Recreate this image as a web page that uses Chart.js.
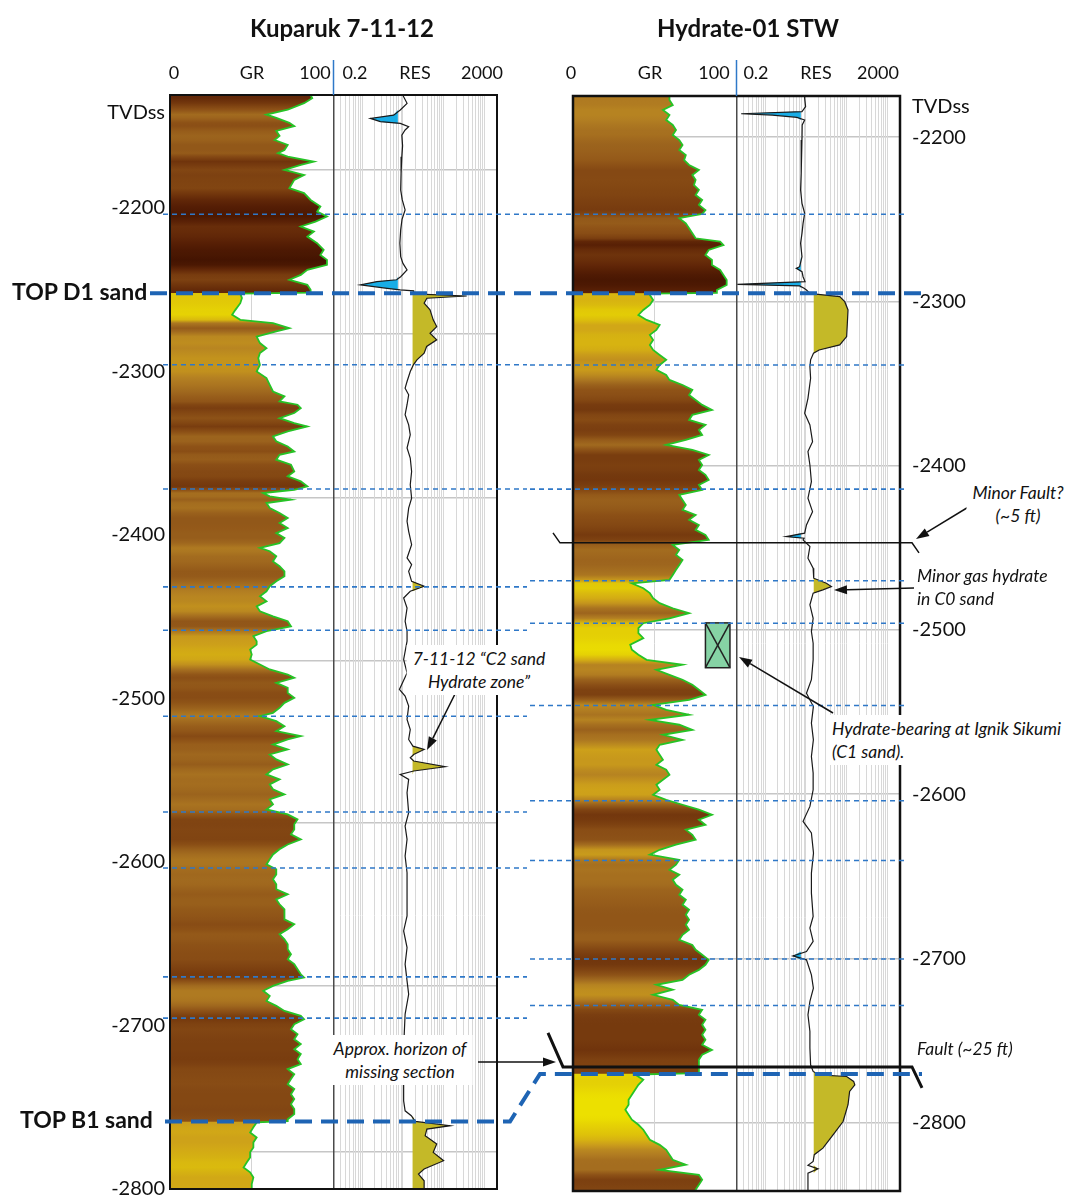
<!DOCTYPE html>
<html><head><meta charset="utf-8">
<script src="https://cdn.jsdelivr.net/npm/chart.js@4.4.1/dist/chart.umd.min.js"></script>
<style>
html,body{margin:0;padding:0;background:#fff;}
body{width:1070px;height:1198px;position:relative;overflow:hidden;font-family:Lato,"Open Sans",sans-serif;color:#111;}
canvas{position:absolute;left:0;top:0;}
.lbl{position:absolute;white-space:nowrap;line-height:1;}
.title{font-weight:700;font-size:24px;}
.hdr{font-size:18px;}
.dep{font-size:20px;}
.top{font-weight:700;font-size:23px;}
.note{font-style:italic;font-size:17.5px;line-height:23px;}
.box{background:#fff;padding:2px 6px;text-align:center;}
.lft{text-align:left;}
</style></head>
<body>
<canvas id="wellL" width="1070" height="1198"></canvas>
<canvas id="wellR" width="1070" height="1198"></canvas>
<script>
// ---------------- DATA (depth TVDss, value) ----------------
const kuparukGR = [[-2131,86],[-2133,87],[-2136,82],[-2140,72],[-2143,59],[-2145,65],[-2148,73],[-2150,76],[-2153,65],[-2156,67],[-2158.5,64],[-2161.5,72],[-2164.6,70],[-2166.6,66],[-2168.7,72],[-2171.7,88],[-2173.8,80],[-2176.8,70],[-2179.9,82],[-2182.9,76],[-2188,73],[-2191,82],[-2195.2,86],[-2199.2,92],[-2202.3,90],[-2205.3,96],[-2208.4,89],[-2211.4,80],[-2214.5,88],[-2217.6,84],[-2221.6,90],[-2225.7,94],[-2228.8,92],[-2231.8,96],[-2234.9,96],[-2237.9,84],[-2241,80],[-2244,73],[-2247.1,84],[-2250.1,86],[-2251.8,86],[-2252.4,43],[-2255.2,44],[-2258.3,43],[-2262.4,40],[-2265.4,38],[-2268.5,43],[-2270.5,63],[-2273.6,73],[-2275.6,65],[-2278.7,53],[-2282.7,55],[-2285.8,59],[-2288.8,55],[-2291.9,54],
[-2296,55],[-2300.1,53],[-2304.1,59],[-2308.2,61],[-2312.3,63],[-2315.3,70],[-2318.4,67],[-2320.4,78],[-2322.5,80],[-2325.5,76],[-2328.6,67],[-2331.6,76],[-2333.7,84],[-2336.7,72],[-2339.8,63],[-2342.8,65],[-2345.9,72],[-2349,76],[-2351,67],[-2354,65],[-2357.1,74],[-2361.2,76],[-2364.2,72],[-2367.3,80],[-2370.3,84],[-2372.4,76],[-2374.4,57],[-2376.4,61],[-2378.5,74],[-2380.5,59],[-2383.6,61],[-2386.6,67],[-2389.7,72],[-2392.7,67],[-2395.8,72],[-2398.9,65],[-2401.9,70],[-2405,67],[-2408,55],[-2410,61],[-2413.1,65],[-2416.2,63],[-2419.2,67],[-2422.3,70],[-2425.3,70],[-2428.4,65],[-2431.4,61],[-2434.5,59],[-2437.5,55],[-2440.6,59],[-2443.7,53],[-2446.7,55],[-2449.8,63],[-2452.8,72],[-2455.9,74],[-2458.9,59],[-2462,51],[-2465,53],
[-2467.1,53],[-2470.1,49],[-2473.2,50],[-2476.2,49],[-2479.3,55],[-2482.3,61],[-2485.4,72],[-2487.4,76],[-2490.5,65],[-2493.5,72],[-2496.6,72],[-2499.6,76],[-2502.7,70],[-2505.8,67],[-2508.8,63],[-2510.8,55],[-2513.9,65],[-2517,70],[-2520,65],[-2523.1,80],[-2525.1,72],[-2528.2,63],[-2531.2,72],[-2534.3,61],[-2537.3,65],[-2540.4,72],[-2543.4,63],[-2546.5,59],[-2549.5,67],[-2552.6,61],[-2555.6,63],[-2558.7,70],[-2561.8,61],[-2564.8,63],[-2567.9,59],[-2570.9,72],[-2574,78],[-2577,76],[-2580.1,76],[-2583.1,74],[-2586.2,80],[-2589.3,72],[-2592.3,67],[-2595.4,63],[-2598.4,61],[-2601.5,59],[-2604.5,65],[-2607.6,65],[-2610.6,63],[-2613.7,65],[-2616.7,65],[-2619.8,72],[-2622.9,65],[-2625.9,67],[-2629,70],
[-2632,70],[-2635.1,70],[-2638.1,76],[-2641.2,72],[-2644.2,67],[-2647.3,70],[-2650.3,72],[-2653.4,72],[-2656.4,74],[-2659.5,72],[-2662.5,76],[-2665.6,78],[-2668.7,80],[-2670.7,82],[-2672.7,72],[-2675.8,63],[-2678.8,57],[-2681.9,61],[-2685,59],[-2688,65],[-2691.1,70],[-2694.1,80],[-2696.2,82],[-2699.2,76],[-2702.3,74],[-2705.3,78],[-2708.4,76],[-2711.4,80],[-2714.5,76],[-2717.5,80],[-2720.6,78],[-2723.6,80],[-2726.7,72],[-2729.8,76],[-2732.8,74],[-2735.9,72],[-2738.9,76],[-2742,74],[-2745,76],[-2748.1,74],[-2751.1,76],[-2754.2,76],[-2757.3,72],[-2758.5,72],[-2759.3,53],[-2762.3,51],[-2765.4,49],[-2768.5,53],[-2771.5,51],[-2774.6,51],[-2777.6,49],[-2780.7,49],[-2783.7,47],[-2786.8,45],[-2789.8,49],[-2792.9,51],[-2797,50],[-2800,50]];

const kuparukRES = [[-2131,10],[-2132.1,10.4],[-2136.1,12.6],[-2140.2,8.6],[-2143.3,5.9],[-2145.3,1.6],[-2147.3,2.8],[-2148.4,8.6],[-2150.4,13.8],[-2152.4,11.3],[-2155.5,9.4],[-2162,9.8],[-2168.7,9.4],[-2178.9,9.0],[-2189.1,8.8],[-2195,9.6],[-2201.3,11.3],[-2207,9.5],[-2213.5,8.8],[-2221.7,8.4],[-2229.8,8.8],[-2234,10],[-2238,12.6],[-2242.1,8.8],[-2244,7],[-2245.1,2.3],[-2247.1,0.91],[-2249.2,4.1],[-2250.2,8.6],[-2250.8,18.3],[-2252.6,18.3],[-2253.9,364],[-2255.3,38.5],[-2258.3,33],[-2262.4,46],[-2268.5,55],[-2272.6,67],[-2276.7,46],[-2280.7,67],[-2284.8,38],[-2288.9,33],[-2293,22],[-2296,18],[-2300.1,15.1],[-2306.2,12.6],[-2310.3,11.3],[-2314.3,13.8],[-2320.4,12.6],[-2326.5,11.3],[-2332.7,13.8],[-2338.8,15.1],[-2346.9,12.6],[-2353,15.1],[-2361.2,16.3],[-2369.3,15.1],[-2377.5,16.3],[-2383.6,13.8],[-2391.7,12.6],[-2397.8,13.8],[-2406,16.3],[-2414.1,12.6],[-2418.2,16.3],[-2422.3,13.8],[-2428.4,16.3],[-2431.4,33],[-2434.5,15.1],[-2438.6,10.4],[-2444.7,12.6],[-2452.8,11.3],[-2458.9,12.6],[-2465,12.6],[-2476.2,10.4],[-2484.4,12.6],[-2494.5,8.2],[-2498.6,11.3],[-2504.7,13.8],[-2512.9,12.6],[-2519,15.1],[-2525.1,13.8],[-2529.2,17.5],[-2531.2,33],[-2534.3,18.3],[-2536.3,15.1],[-2538.3,18.3],[-2541.8,108],[-2544.4,18.3],[-2546.5,8.6],[-2549.5,13.8],[-2557.7,12.6],[-2569.9,13.8],[-2578.1,11.3],[-2586.2,12.6],[-2596.4,11.3],[-2606.6,12.6],[-2618.8,12.6],[-2633,12.6],[-2642.2,10.4],[-2652.4,12.6],[-2662.5,11.3],[-2672.7,12.6],[-2680.9,13.8],[-2693.1,11.3],[-2713.5,10.4],[-2733.8,10.4],[-2746.1,10.4],[-2752.2,11.3],[-2755.2,16],[-2758.7,20],[-2761.3,143],[-2763.4,38.5],[-2767.4,35],[-2772.5,67],[-2777.6,55],[-2782.7,99],[-2787.8,33],[-2790.9,24],[-2795,33],[-2800,33]];

const hydrateGR = [[-2175,59],[-2177.4,59],[-2180.5,61],[-2183.5,55],[-2186.6,59],[-2189.6,57],[-2192.6,61],[-2195.7,63],[-2198.7,61],[-2201.8,65],[-2204.8,67],[-2207.9,65],[-2210.9,69],[-2214,68],[-2217,71],[-2220,77],[-2223.1,73],[-2226.1,75],[-2229.2,74],[-2232.2,77],[-2235.3,75],[-2238.3,79],[-2241.3,77],[-2244.4,81],[-2246.8,79],[-2249.4,65],[-2252.5,69],[-2255.5,71],[-2258.6,73],[-2261.6,75],[-2263.6,90],[-2265.7,92],[-2268.7,83],[-2271.8,81],[-2274.8,85],[-2277.8,85],[-2280.9,90],[-2283.9,92],[-2287,94],[-2290,94],[-2293.1,88],[-2294.8,88],[-2295.3,47],[-2296.1,47],[-2299.1,49],[-2302.2,47],[-2305.2,43],[-2308.3,40],[-2311.3,45],[-2314.4,53],[-2317.4,51],[-2320.4,47],[-2323.5,49],[-2326.5,47],[-2329.6,49],[-2332.6,53],[-2335.6,57],[-2338.7,53],[-2341.7,51],[-2344.8,57],[-2347.8,59],[-2350.9,67],[-2353.9,73],[-2357,71],[-2360,75],[-2363,79],[-2366.1,85],[-2369.1,73],[-2372.2,71],[-2375.2,81],[-2378.3,77],[-2381.3,79],[-2384.3,69],[-2387.4,57],[-2390.4,73],[-2393.5,83],[-2396.5,77],[-2399.6,79],[-2402.6,77],[-2405.6,81],[-2408.7,83],[-2411.7,77],[-2414.8,79],[-2417.8,65],[-2420.9,67],[-2423.9,69],[-2426.9,67],[-2430,75],[-2433,71],[-2436.1,77],[-2439.1,75],[-2442.1,81],[-2445.2,83],[-2448.2,61],[-2451.3,65],[-2454.3,63],[-2457.4,67],[-2460.4,65],[-2463.4,63],[-2466.5,61],[-2469.5,59],[-2471.6,36],[-2474.6,43],[-2477.6,47],[-2480.7,49],[-2483.7,53],[-2486.8,61],[-2489.8,71],[-2492.9,59],[-2495.9,43],[-2498.9,40],[-2502,40],[-2505,43],[-2509,35],[-2512.1,36],[-2515.1,40],[-2518.2,45],[-2521.2,67],[-2524.3,51],[-2527.3,59],[-2530.3,67],[-2533.4,73],[-2536.4,77],[-2539.5,81],[-2542.5,71],[-2545.6,49],[-2548.6,57],[-2551.6,71],[-2554.7,47],[-2557.7,65],[-2560.8,73],[-2563.8,55],[-2566.9,67],[-2569.9,53],[-2572.9,51],[-2576,53],[-2579,55],[-2582.1,51],[-2585.1,57],[-2588.2,59],[-2591.2,55],[-2594.2,51],[-2597.3,53],[-2600.3,49],[-2603.4,57],[-2606.4,67],[-2609.4,77],[-2612.5,85],[-2615.5,77],[-2618.6,81],[-2621.6,69],[-2624.7,73],[-2627.7,75],[-2630.7,63],[-2633.8,53],[-2636.8,47],[-2639.9,65],[-2642.9,63],[-2646,59],[-2649,65],[-2652,61],[-2655.1,63],[-2658.1,67],[-2661.2,65],[-2664.2,69],[-2667.3,67],[-2670.3,71],[-2673.4,69],[-2676.4,71],[-2679.5,69],[-2682.5,71],[-2685.6,67],[-2688.6,65],[-2691.7,73],[-2694.7,75],[-2697.7,79],[-2700.8,83],[-2703.8,81],[-2706.9,77],[-2709.9,71],[-2713,67],[-2716,51],[-2719,61],[-2722.1,49],[-2725.1,61],[-2728.2,65],[-2731.2,79],[-2734.3,77],[-2737.3,81],[-2740.3,79],[-2743.4,81],[-2746.4,79],[-2749.5,81],[-2752.5,79],[-2755.6,85],[-2758.6,79],[-2761.6,77],[-2764.7,77],[-2767.7,77],[-2769.8,77],[-2770.6,38],[-2773.8,43],[-2776.9,40],[-2779.9,38],[-2782.9,36],[-2786,34],[-2789,34],[-2792.1,32],[-2795.1,34],[-2798.1,36],[-2801.2,40],[-2804.2,43],[-2807.3,45],[-2810.3,47],[-2813.4,53],[-2816.4,57],[-2819.4,59],[-2822.5,61],[-2825.5,69],[-2828.6,53],[-2831.6,77],[-2834.7,79],[-2837.7,77],[-2840.7,75],[-2842,75]];

const hydrateRES = [[-2175,9.3],[-2176.4,9.3],[-2181.5,9.8],[-2184.5,8],[-2185.8,0.26],[-2186.6,1.5],[-2188,6],[-2189.6,9.3],[-2192.6,8.1],[-2201.8,8],[-2211.9,7.7],[-2222.1,7.6],[-2232.2,7.4],[-2240.3,8],[-2246.4,9.3],[-2252.5,8.5],[-2258.6,8],[-2264.6,7.4],[-2272.8,8],[-2278.9,7.0],[-2279.9,5.8],[-2281.9,8],[-2285,8.5],[-2288,9.5],[-2289.6,0.21],[-2290.6,7.0],[-2292,9],[-2293.1,10.3],[-2294.7,12],[-2295.5,15.3],[-2297.1,67],[-2300.2,89],[-2305.2,107],[-2313.3,103],[-2321.4,99],[-2326.5,67],[-2329.6,21],[-2331.6,15.3],[-2335.6,13],[-2339.7,12.5],[-2346.8,13],[-2359,11.2],[-2368.1,9.3],[-2375.2,12.5],[-2385.4,14.5],[-2391.4,11.2],[-2399.6,12.5],[-2409.7,13.6],[-2419.8,11.2],[-2428,14.5],[-2436.1,10.3],[-2441.1,9.3],[-2443.2,3.3],[-2444.2,9],[-2445.2,8.5],[-2449.2,12.5],[-2456.3,11.2],[-2462.4,15],[-2468.5,15.5],[-2471.6,31.6],[-2473.6,42],[-2475.6,26],[-2477.6,15],[-2484.7,12.5],[-2492.9,15],[-2501,13.6],[-2508.1,15],[-2518.2,15],[-2530.3,13.6],[-2538.5,10.3],[-2546.6,15.2],[-2556.7,13.6],[-2566.9,15.2],[-2577,13.6],[-2587.1,15],[-2597.3,15],[-2607.4,12.5],[-2616.5,8.5],[-2623.6,13.6],[-2635.8,15.3],[-2648,13.6],[-2660.2,13.6],[-2674.4,15],[-2681.5,12.5],[-2689.6,15],[-2695.7,10.3],[-2698.4,4.8],[-2700.8,10.3],[-2709.9,13.6],[-2718,15.2],[-2726.1,12.5],[-2734.3,11.2],[-2744.4,12.5],[-2754.5,12.5],[-2764.7,13],[-2768.7,15],[-2770.8,21],[-2771.8,99],[-2774.8,147],[-2776.9,157],[-2780.9,117],[-2789,107],[-2799.2,81],[-2807.3,46],[-2815.4,26],[-2819.4,16],[-2823.5,15],[-2825.9,11.2],[-2828,19.7],[-2830.6,11.2],[-2835.7,11.2],[-2840.7,11.2],[-2842,11.2]];

const depthTicks = [-2200,-2300,-2400,-2500,-2600,-2700,-2800];
const kuparukGridDepths = [-2177,-2277,-2377,-2477,-2576,-2676,-2777];
const hydrateGridDepths = [-2200,-2300,-2400,-2500,-2600,-2700,-2800];
const kuparukRange = [-2800,-2131];
const hydrateRange = [-2841.5,-2175];
const kuparukMarkers = [-2203.9,-2296,-2371.9,-2431.8,-2458.3,-2510.9,-2569.5,-2603.7,-2670.3,-2695.5];
const hydrateMarkers = [-2247,-2338.7,-2414.3,-2470.1,-2495.9,-2546,-2604,-2640.3,-2700.3,-2728.6];
const topD1 = {kuparuk: -2252.2, hydrate: -2295};
const topB1 = {kuparuk: -2758.7, hydrate: -2770.3};
const minorFaultDepth = -2447;
const faultDepth = -2766;
const ignikBox = {top: -2495.7, bottom: -2523, grFrom: 81, grTo: 96};
const kuparukCut = {low: 7.5, high: 17.2};
const hydrateCut = {low: 7.5, high: 15.5};
const grAxis = [0, 100];
const resAxis = [0.2, 2000];

// ---------------- STYLE HELPERS ----------------
Chart.defaults.font.family = 'Lato, "Open Sans", sans-serif';
Chart.defaults.color = '#111';

const grStops = [[35,[236,224,0]],[44,[224,198,8]],[52,[205,160,26]],[58,[180,128,34]],[65,[158,102,30]],[72,[140,80,22]],[80,[118,58,14]],[88,[92,34,6]],[96,[65,18,0]]];
function grColor(v){
  if (v <= grStops[0][0]) return 'rgb(' + grStops[0][1].join(',') + ')';
  for (let i = 1; i < grStops.length; i++) {
    if (v <= grStops[i][0]) {
      const [a, ca] = grStops[i-1], [b, cb] = grStops[i];
      const t = (v - a) / (b - a);
      return 'rgb(' + ca.map((c, k) => Math.round(c + (cb[k] - c) * t)).join(',') + ')';
    }
  }
  return 'rgb(' + grStops[grStops.length-1][1].join(',') + ')';
}
// colour of the GR fill follows a lightly softened GR (crisp across bed boundaries)
function grGradient(chart, pairs){
  const a = chart.chartArea;
  if (!a || !chart.scales.y) return 'rgba(0,0,0,0)';
  const ys = chart.scales.y, h = a.bottom - a.top;
  const g = chart.ctx.createLinearGradient(0, a.top, 0, a.bottom);
  pairs.forEach(([d, v], i) => {
    const p = pairs[i-1], n = pairs[i+1];
    const pv = (p && Math.abs(p[0] - d) > 1.5) ? p[1] : v;
    const nv = (n && Math.abs(n[0] - d) > 1.5) ? n[1] : v;
    const t = Math.min(1, Math.max(0, (ys.getPixelForValue(d) - a.top) / h));
    g.addColorStop(t, grColor(0.5 * v + 0.25 * pv + 0.25 * nv));
  });
  return g;
}
const resGrid = [];
for (let e = -1; e <= 3; e++) for (let m = 1; m <= 9; m++) {
  const v = +(m * Math.pow(10, e)).toPrecision(3);
  if (v > resAxis[0] && v < resAxis[1]) resGrid.push(v);
}
function pts(pairs, f){ return pairs.map(([d, v]) => ({x: f ? f(v) : v, y: d})); }
function line(c, x1, y1, x2, y2){ c.beginPath(); c.moveTo(x1, y1); c.lineTo(x2, y2); c.stroke(); }
function poly(c, p){ c.beginPath(); c.moveTo(p[0][0], p[0][1]); for (let i = 1; i < p.length; i++) c.lineTo(p[i][0], p[i][1]); c.stroke(); }
function arrow(c, x1, y1, x2, y2){
  c.save(); c.setLineDash([]); c.strokeStyle = '#111'; c.fillStyle = '#111'; c.lineWidth = 1.5;
  const ang = Math.atan2(y2 - y1, x2 - x1), L = 13, W = 4.5;
  const bx = x2 - L * Math.cos(ang), by = y2 - L * Math.sin(ang);
  line(c, x1, y1, bx, by);
  c.beginPath(); c.moveTo(x2, y2);
  c.lineTo(bx + W * Math.sin(ang), by - W * Math.cos(ang));
  c.lineTo(bx - W * Math.sin(ang), by + W * Math.cos(ang));
  c.closePath(); c.fill(); c.restore();
}

// ---------------- CHART CONFIG ----------------
function wellConfig(w){
  const range = w.range;
  return {
    type: 'line',
    data: {datasets: [
      {label: 'RES', data: pts(w.res), xAxisID: 'xres', yAxisID: 'y', borderColor: '#1a1a1a', borderWidth: 1.2, pointRadius: 0, fill: false},
      {label: 'RES high', data: pts(w.res, v => Math.max(v, w.cut.high)), xAxisID: 'xres', yAxisID: 'y', borderColor: 'rgba(0,0,0,0)', borderWidth: 0, pointRadius: 0, backgroundColor: '#c4b928', fill: {value: w.cut.high}},
      {label: 'RES low', data: pts(w.res, v => Math.min(v, w.cut.low)), xAxisID: 'xres', yAxisID: 'y', borderColor: 'rgba(0,0,0,0)', borderWidth: 0, pointRadius: 0, backgroundColor: '#19ade6', fill: {value: w.cut.low}},
      {label: 'GR', data: pts(w.gr), xAxisID: 'xgr', yAxisID: 'y', borderColor: '#26c326', borderWidth: 1.8, pointRadius: 0, backgroundColor: c => grGradient(c.chart, w.gr), fill: {value: grAxis[0]}}
    ]},
    options: {
      responsive: false, animation: false, events: [], indexAxis: 'y',
      layout: {padding: w.padding},
      plugins: {legend: {display: false}, tooltip: {enabled: false}},
      elements: {line: {tension: 0}},
      scales: {
        y: {type: 'linear', axis: 'y', position: w.side, min: range[0], max: range[1],
            afterBuildTicks: s => { s.ticks = depthTicks.map(v => ({value: v})); },
            afterFit: s => { s.width = 170; s.paddingTop = 0; s.paddingBottom = 0; },
            grid: {display: false, drawTicks: false}, border: {display: false},
            ticks: {callback: v => String(v), font: {size: 20}, color: '#111', padding: w.side === 'left' ? 5 : 12}},
        yg: {type: 'linear', axis: 'y', position: w.side, min: range[0], max: range[1],
            afterBuildTicks: s => { s.ticks = w.gridDepths.map(v => ({value: v})); },
            afterFit: s => { s.width = 0; s.paddingTop = 0; s.paddingBottom = 0; },
            ticks: {display: false}, grid: {color: '#c6c6c6', lineWidth: 1.5, drawTicks: false}, border: {display: false}},
        xgr: {type: 'linear', axis: 'x', position: 'top', min: grAxis[0], max: grAxis[1] * 2,
            afterBuildTicks: s => { s.ticks = [{value: 50}, {value: grAxis[1]}]; },
            afterFit: s => { s.height = 0; s.paddingLeft = 0; s.paddingRight = 0; },
            ticks: {display: false}, border: {display: false},
            grid: {drawTicks: false, color: c => (c.tick && c.tick.value === grAxis[1]) ? '#4a4a4a' : '#d4d4d4', lineWidth: c => (c.tick && c.tick.value === grAxis[1]) ? 1.5 : 1}},
        xres: {type: 'logarithmic', axis: 'x', position: 'top', min: resAxis[0] * resAxis[0] / resAxis[1], max: resAxis[1],
            afterBuildTicks: s => { s.ticks = resGrid.map(v => ({value: v})); },
            afterFit: s => { s.height = 0; s.paddingLeft = 0; s.paddingRight = 0; },
            ticks: {display: false}, border: {display: false},
            grid: {drawTicks: false, color: '#d8d8d8', lineWidth: 1}}
      }
    },
    plugins: [w.overlay]
  };
}

let chartL = null;

const overlayL = {id: 'overlayL', afterDraw(chart){
  const c = chart.ctx, a = chart.chartArea, ys = chart.scales.y, xg = chart.scales.xgr;
  c.save();
  c.strokeStyle = '#111'; c.lineWidth = 2;
  c.strokeRect(a.left, a.top, a.right - a.left, a.bottom - a.top);
  const dx = xg.getPixelForValue(grAxis[1]);
  c.strokeStyle = '#2f78c8'; c.lineWidth = 1.5; line(c, dx, 60, dx, a.top);
  c.setLineDash([5, 4]); c.lineWidth = 1.6; c.strokeStyle = '#2f78c8';
  kuparukMarkers.forEach(d => { const y = ys.getPixelForValue(d); line(c, a.left - 7, y, a.right + 30, y); });
  c.setLineDash([17, 9]); c.lineWidth = 4; c.strokeStyle = '#1e64b4';
  const yd = ys.getPixelForValue(topD1.kuparuk); line(c, 150, yd, a.right + 43, yd);
  c.restore();
}};

const overlayR = {id: 'overlayR', afterDraw(chart){
  const c = chart.ctx, a = chart.chartArea, ys = chart.scales.y, xg = chart.scales.xgr;
  c.save();
  c.strokeStyle = '#111'; c.lineWidth = 2.5;
  c.strokeRect(a.left, a.top, a.right - a.left, a.bottom - a.top);
  const dx = xg.getPixelForValue(grAxis[1]);
  c.strokeStyle = '#2f78c8'; c.lineWidth = 1.5; line(c, dx, 60, dx, a.top);
  // green hydrate box
  const bx1 = xg.getPixelForValue(ignikBox.grFrom), bx2 = xg.getPixelForValue(ignikBox.grTo);
  const by1 = ys.getPixelForValue(ignikBox.top), by2 = ys.getPixelForValue(ignikBox.bottom);
  c.fillStyle = '#86d3a5'; c.fillRect(bx1, by1, bx2 - bx1, by2 - by1);
  c.strokeStyle = '#222'; c.lineWidth = 1.5; c.strokeRect(bx1, by1, bx2 - bx1, by2 - by1);
  line(c, bx1, by1, bx2, by2); line(c, bx2, by1, bx1, by2);
  // correlation markers
  c.setLineDash([5, 4]); c.lineWidth = 1.6; c.strokeStyle = '#2f78c8';
  hydrateMarkers.forEach(d => { const y = ys.getPixelForValue(d); line(c, a.left - 43, y, a.right + 5, y); });
  // faults
  c.setLineDash([]); c.strokeStyle = '#111';
  const ymf = ys.getPixelForValue(minorFaultDepth);
  c.lineWidth = 1.5; poly(c, [[a.left - 20, ymf - 10], [a.left - 13, ymf], [a.right + 12, ymf], [a.right + 19, ymf + 10]]);
  const yf = ys.getPixelForValue(faultDepth);
  c.lineWidth = 3; poly(c, [[a.left - 25, yf - 34], [a.left - 10, yf], [a.right + 12, yf], [a.right + 22, yf + 21]]);
  // thick tops
  c.setLineDash([17, 9]); c.lineWidth = 4; c.strokeStyle = '#1e64b4';
  const yd = ys.getPixelForValue(topD1.hydrate); line(c, a.left - 33, yd, a.right + 30, yd);
  if (chartL) {
    const yl = chartL.scales.y.getPixelForValue(topB1.kuparuk), yr = ys.getPixelForValue(topB1.hydrate);
    poly(c, [[165, yl], [chartL.chartArea.right + 13, yl], [a.left - 33, yr], [a.right + 22, yr]]);
  }
  c.restore();
  // annotation arrows
  arrow(c, 975, 503, 916, 539);
  arrow(c, 914, 588, 834, 590);
  arrow(c, 833, 713, 739, 657);
  arrow(c, 457, 690, 427, 750);
  arrow(c, 478, 1062, 556, 1062);
}};

chartL = new Chart(document.getElementById('wellL'), wellConfig({
  gr: kuparukGR, res: kuparukRES, cut: kuparukCut, range: kuparukRange, gridDepths: kuparukGridDepths,
  side: 'left', padding: {left: 0, right: 573, top: 95, bottom: 9}, overlay: overlayL
}));
const chartR = new Chart(document.getElementById('wellR'), wellConfig({
  gr: hydrateGR, res: hydrateRES, cut: hydrateCut, range: hydrateRange, gridDepths: hydrateGridDepths,
  side: 'right', padding: {left: 573, right: 0, top: 96, bottom: 7}, overlay: overlayR
}));

// ---------------- TEXT LAYER ----------------
const labels = [
  ['Kuparuk 7-11-12', 342, 28, 'title', 'c'],
  ['Hydrate-01 STW', 748, 28, 'title', 'c'],
  ['0', 174, 72, 'hdr', 'c'], ['GR', 252, 72, 'hdr', 'c'], ['100', 315, 72, 'hdr', 'c'],
  ['0.2', 355, 72, 'hdr', 'c'], ['RES', 415, 72, 'hdr', 'c'], ['2000', 482, 72, 'hdr', 'c'],
  ['0', 571, 72, 'hdr', 'c'], ['GR', 650, 72, 'hdr', 'c'], ['100', 714, 72, 'hdr', 'c'],
  ['0.2', 756, 72, 'hdr', 'c'], ['RES', 816, 72, 'hdr', 'c'], ['2000', 878, 72, 'hdr', 'c'],
  ['TVDss', 165, 111, 'dep', 'r'],
  ['TVDss', 912, 105, 'dep', 'l'],
  ['TOP D1 sand', 12, 291, 'top', 'l'],
  ['TOP B1 sand', 20, 1119, 'top', 'l'],
  ['Minor Fault?<br>(~5 ft)', 1018, 504, 'note box', 'c'],
  ['Minor gas hydrate<br>in C0 sand', 917, 587, 'note lft', 'l'],
  ['Hydrate-bearing at Ignik Sikumi<br>(C1 sand).', 826, 740, 'note box lft', 'l'],
  ['7-11-12 \u201cC2 sand<br>Hydrate zone\u201d', 479, 670, 'note box', 'c'],
  ['Approx. horizon of<br>missing section', 400, 1060, 'note box', 'c'],
  ['Fault (~25 ft)', 917, 1048, 'note lft', 'l']
];
labels.forEach(([t, x, y, cls, al]) => {
  const d = document.createElement('div');
  d.className = 'lbl ' + cls;
  d.innerHTML = t;
  d.style.left = x + 'px'; d.style.top = y + 'px';
  const tx = al === 'c' ? '-50%' : (al === 'r' ? '-100%' : '0');
  d.style.transform = 'translate(' + tx + ',-50%)';
  document.body.appendChild(d);
});
</script>
</body></html>
